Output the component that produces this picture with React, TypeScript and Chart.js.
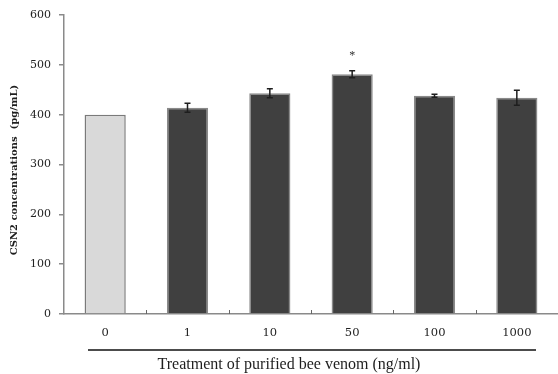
import React, { useEffect, useRef } from "react";
import { Chart, registerables } from "chart.js";

Chart.register(...registerables);

const categories = ["0", "1", "10", "50", "100", "1000"];
const values = [400, 414, 443, 481, 438, 434];
const errors = [0, 9, 9, 7, 3, 15];
const significance = ["", "", "", "*", "", ""];
const yTicks = [0, 100, 200, 300, 400, 500, 600];
const yTitle = "CSN2 concentrations  (pg/mL)";
const xTitle = "Treatment of purified bee venom (ng/ml)";

const SERIF = "'Liberation Serif', 'Times New Roman', serif";
const WIDE = "'DejaVu Serif', serif";

const overlayPlugin = {
  id: "overlay",
  afterDatasetsDraw(chart: any) {
    const ctx = chart.ctx;
    const meta = chart.getDatasetMeta(0);
    const y = chart.scales.y;
    const x = chart.scales.x;
    const area = chart.chartArea;
    ctx.save();
    // error bars
    ctx.strokeStyle = "#1e1e1e";
    ctx.lineWidth = 1.5;
    meta.data.forEach((bar: any, i: number) => {
      const e = errors[i];
      if (!e) return;
      const top = y.getPixelForValue(values[i] + e);
      const bot = y.getPixelForValue(values[i] - e);
      ctx.beginPath();
      ctx.moveTo(bar.x, top);
      ctx.lineTo(bar.x, bot);
      ctx.moveTo(bar.x - 3, top);
      ctx.lineTo(bar.x + 3, top);
      ctx.moveTo(bar.x - 3, bot);
      ctx.lineTo(bar.x + 3, bot);
      ctx.stroke();
    });
    // significance
    ctx.fillStyle = "#333";
    ctx.font = `12px ${SERIF}`;
    ctx.textAlign = "center";
    ctx.textBaseline = "middle";
    meta.data.forEach((bar: any, i: number) => {
      if (!significance[i]) return;
      const top = y.getPixelForValue(values[i] + errors[i]);
      ctx.fillText(significance[i], bar.x, top - 15);
    });
    // category boundary marks (inside, upward)
    ctx.strokeStyle = "#666";
    ctx.lineWidth = 1;
    const n = categories.length;
    for (let i = 1; i < n; i++) {
      const px = (x.getPixelForValue(i - 1) + x.getPixelForValue(i)) / 2;
      ctx.beginPath();
      ctx.moveTo(Math.round(px) + 0.5, area.bottom);
      ctx.lineTo(Math.round(px) + 0.5, area.bottom - 4);
      ctx.stroke();
    }
    // x title line
    ctx.strokeStyle = "#111";
    ctx.lineWidth = 1.5;
    ctx.beginPath();
    ctx.moveTo(88, 350);
    ctx.lineTo(536, 350);
    ctx.stroke();
    // x title
    ctx.fillStyle = "#1e1e1e";
    ctx.font = `16px ${SERIF}`;
    ctx.textAlign = "center";
    ctx.textBaseline = "middle";
    ctx.fillText(xTitle, 289, 365);
    // y title
    ctx.translate(14, 170);
    ctx.rotate(-Math.PI / 2);
    ctx.font = `bold 10px ${WIDE}`;
    ctx.fillStyle = "#1e1e1e";
    ctx.fillText(yTitle, 0, 0);
    ctx.restore();
  },
};

export default function App() {
  const ref = useRef<HTMLCanvasElement | null>(null);
  useEffect(() => {
    if (!ref.current) return;
    const chart = new Chart(ref.current, {
      type: "bar",
      data: {
        labels: categories,
        datasets: [
          {
            data: values,
            backgroundColor: values.map((_, i) => (i === 0 ? "#d9d9d9" : "#404040")),
            borderColor: values.map((_, i) => (i === 0 ? "#7a7a7a" : "#8a8a8a")),
            borderWidth: 1.5,
            categoryPercentage: 1,
            barPercentage: 0.5,
          },
        ],
      },
      options: {
        animation: false,
        responsive: false,
        layout: { padding: { top: 15, right: 0, left: 0, bottom: 0 } },
        plugins: { legend: { display: false }, tooltip: { enabled: false } },
        scales: {
          x: {
            grid: { display: false, drawTicks: false },
            border: { color: "#8a8a8a", width: 1.5 },
            ticks: {
              padding: 12,
              color: "#222",
              font: { family: WIDE, size: 11.5 },
            },
            afterFit(scale: any) {
              scale.height = 60;
            },
          },
          y: {
            min: 0,
            max: 600,
            afterBuildTicks(scale: any) {
              scale.ticks = yTicks.map((v) => ({ value: v }));
            },
            grid: { drawOnChartArea: false, tickLength: 5, color: "#8a8a8a", lineWidth: 1.5 },
            border: { color: "#8a8a8a", width: 1.5 },
            ticks: {
              padding: 8,
              color: "#222",
              font: { family: WIDE, size: 11 },
            },
            afterFit(scale: any) {
              scale.width = 64;
            },
          },
        },
      },
      plugins: [overlayPlugin],
    } as any);
    return () => chart.destroy();
  }, []);
  return (
    <div style={{ position: "fixed", left: 0, top: 0, width: 558, height: 374, background: "#fff" }}>
      <canvas ref={ref} width={558} height={374} style={{ width: 558, height: 374, display: "block" }} />
    </div>
  );
}
